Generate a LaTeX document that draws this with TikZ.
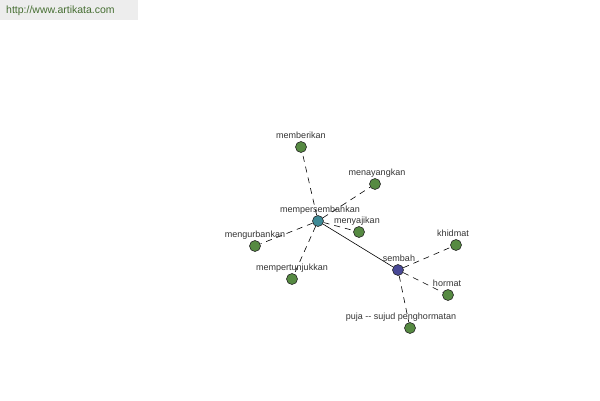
\documentclass[tikz,border=0pt]{standalone}
\usepackage{fontspec}
\setmainfont{Liberation Sans}
\usepackage{xcolor}
\usetikzlibrary{positioning}
\definecolor{leafgreen}{RGB}{86,138,66}
\definecolor{hubteal}{RGB}{62,138,150}
\definecolor{rootblue}{RGB}{72,72,150}
\definecolor{urlgreen}{RGB}{70,110,50}

\begin{document}
\begin{tikzpicture}[x=1pt,y=-1pt,
  word/.style={circle,draw=black!85,fill=leafgreen,minimum size=11pt,inner sep=0pt,line width=0.6pt},
  lbl/.style={font=\fontsize{9}{10}\selectfont,text=black!80,inner sep=0pt,text height=6.5pt,text depth=2pt,yshift=-1.5pt},
  syn/.style={dash pattern=on 6pt off 5pt,line width=0.6pt},
  link/.style={line width=0.6pt}]
\useasboundingbox (0,0) rectangle (600,400);
% header
\fill[black!7] (0,0) rectangle (138,20);
\node[anchor=west,inner sep=0pt,font=\fontsize{10.5}{12}\selectfont,text=urlgreen] (url) at (6,10.5) {http://www.artikata.com};

% words
\node[word,fill=hubteal] (ms) at (318,221) {};
\node[word] (mb) at (301,147) {};
\node[word] (my) at (375,184) {};
\node[word] (mj) at (359,232) {};
\node[word] (mu) at (255,246) {};
\node[word] (mt) at (292,279) {};
\node[word,fill=rootblue] (sb) at (398,270) {};
\node[word] (kh) at (456,245) {};
\node[word] (hr) at (448,295) {};
\node[word] (pj) at (410,328) {};

% links
\draw[syn] (ms) -- (mb);
\draw[syn] (ms) -- (my);
\draw[syn] (ms) -- (mj);
\draw[syn] (ms) -- (mu);
\draw[syn] (ms) -- (mt);
\draw[link] (ms) -- (sb);
\draw[syn] (sb) -- (kh);
\draw[syn] (sb) -- (hr);
\draw[syn] (sb) -- (pj);

% labels
\node[lbl] (ms-l) at (320,209) {mempersembahkan};
\node[lbl] (mb-l) at (301,135) {memberikan};
\node[lbl] (my-l) at (377,172) {menayangkan};
\node[lbl] (mj-l) at (357,220) {menyajikan};
\node[lbl] (mu-l) at (255,234) {mengurbankan};
\node[lbl] (mt-l) at (292,267) {mempertunjukkan};
\node[lbl] (sb-l) at (399,258) {sembah};
\node[lbl] (kh-l) at (453,233) {khidmat};
\node[lbl] (hr-l) at (447,283) {hormat};
\node[lbl] (pj-l) at (401,316) {puja {-}{-} sujud penghormatan};
\end{tikzpicture}
\end{document}
